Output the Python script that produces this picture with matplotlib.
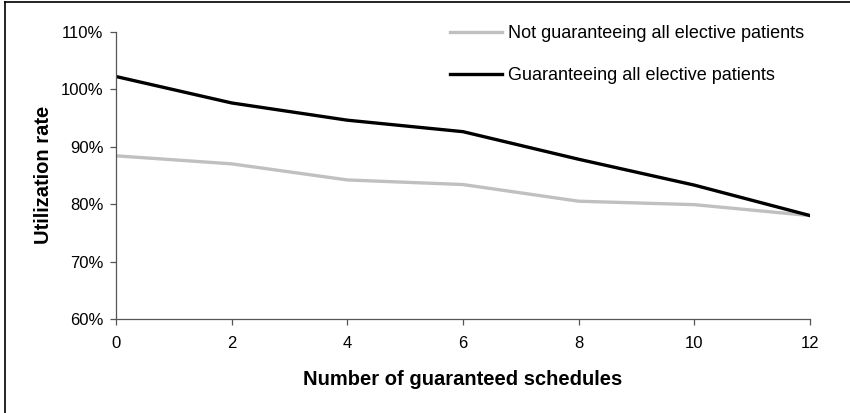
import matplotlib
matplotlib.use("Agg")
import matplotlib.pyplot as plt
from matplotlib.lines import Line2D
from matplotlib.ticker import FuncFormatter

schedules = [0, 2, 4, 6, 8, 10, 12]
not_guaranteeing = [88.4, 87.0, 84.2, 83.4, 80.5, 79.9, 78.0]
guaranteeing = [102.2, 97.6, 94.6, 92.6, 87.8, 83.3, 78.0]
label_not = "Not guaranteeing all elective patients"
label_guar = "Guaranteeing all elective patients"

plt.rcParams['font.family'] = ['Liberation Sans', 'DejaVu Sans']

fig = plt.figure(figsize=(8.5, 4.13), dpi=100)
ax = fig.add_axes([116/850, 1-319/413, (810-116)/850, (319-31.7)/413])

ax.plot(schedules, not_guaranteeing, color='#c0c0c0', lw=2.4, label=label_not, solid_joinstyle='round')
ax.plot(schedules, guaranteeing, color='black', lw=2.4, label=label_guar, solid_joinstyle='round')

ax.set_xlim(0, 12)
ax.set_ylim(60, 110)
ax.set_xticks(schedules)
ax.set_yticks([60, 70, 80, 90, 100, 110])
ax.yaxis.set_major_formatter(FuncFormatter(lambda v, p: f"{v:.0f}%"))

for s in ['top', 'right']:
    ax.spines[s].set_visible(False)
for s in ['left', 'bottom']:
    ax.spines[s].set_color('#555555')
    ax.spines[s].set_linewidth(0.9)
ax.tick_params(axis='both', direction='out', length=4, width=0.9, color='#555555',
               labelsize=12, labelcolor='black')
ax.tick_params(axis='x', pad=8)
ax.tick_params(axis='y', pad=5)

ax.set_xlabel("Number of guaranteed schedules", fontsize=14.5, fontweight='bold', labelpad=14)
ax.set_ylabel("Utilization rate", fontsize=14.5, fontweight='bold', labelpad=6)

leg = ax.legend(loc='upper left', bbox_to_anchor=(450/850, 1-25/413), bbox_transform=fig.transFigure,
                frameon=False, fontsize=13, handlelength=2.9, handletextpad=0.3,
                labelspacing=1.4, borderpad=0, borderaxespad=0)

fig.add_artist(Line2D([4.5/850, 4.5/850], [0, 1-1.5/413], transform=fig.transFigure, color='black', lw=1.2))
fig.add_artist(Line2D([4.5/850, 1], [1-1.5/413, 1-1.5/413], transform=fig.transFigure, color='black', lw=1.2))

fig.savefig("out.png", dpi=100)
